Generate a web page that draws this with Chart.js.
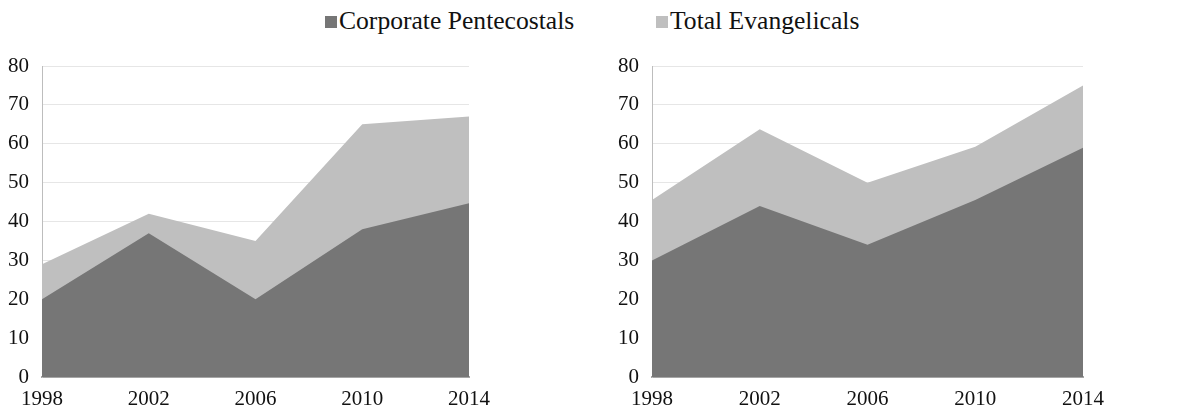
<!DOCTYPE html>
<html>
<head>
<meta charset="utf-8">
<script src="https://cdn.jsdelivr.net/npm/chart.js@4.4.1/dist/chart.umd.min.js"></script>
<style>
  html, body { margin: 0; padding: 0; background: #fff; }
  body { width: 1187px; height: 417px; position: relative; overflow: hidden; font-family: "Liberation Serif", "DejaVu Serif", serif; }
  #legend { position: absolute; top: 4px; left: 0; width: 1187px; height: 34px; }
  .item { position: absolute; top: 0; font-size: 25.6px; color: #111; line-height: 34px; white-space: nowrap; }
  .box { display: inline-block; width: 12px; height: 12px; margin-right: 2px; vertical-align: 1px; }
  #wrapA { position: absolute; left: 0; top: 50px; width: 590px; height: 367px; }
  #wrapB { position: absolute; left: 590px; top: 50px; width: 597px; height: 367px; }
</style>
</head>
<body>
<div id="legend"></div>
<div id="wrapA"><canvas id="chartA"></canvas></div>
<div id="wrapB"><canvas id="chartB"></canvas></div>
<script>
// data
const years = ['1998', '2002', '2006', '2010', '2014'];
const seriesNames = ['Corporate Pentecostals', 'Total Evangelicals'];
const seriesColors = ['#767676', '#bfbfbf'];

const leftPentecostals = [20, 37, 20, 38, 44.7];
const leftEvangelicals = [29, 42, 35, 65, 67];

const rightPentecostals = [30, 44, 34, 45.5, 59];
const rightEvangelicals = [45.5, 63.7, 50, 59.2, 75];

const yTicks = [0, 10, 20, 30, 40, 50, 60, 70, 80];

const serif = "'Liberation Serif', 'DejaVu Serif', serif";

// legend on top, shared by both panels
const legendPos = [325, 656];
const legend = document.getElementById('legend');
seriesNames.forEach((name, i) => {
    const el = document.createElement('div');
    el.className = 'item';
    el.style.left = legendPos[i] + 'px';
    el.innerHTML = '<span class="box" style="background:' + seriesColors[i] + '"></span>' + name;
    legend.appendChild(el);
});

function makeChart(id, pent, evan, axisWidth, padRight) {
    const canvas = document.getElementById(id);
    return new Chart(canvas, {
        type: 'line',
        data: {
            labels: years,
            datasets: [
                { label: seriesNames[0], data: pent, backgroundColor: seriesColors[0], borderWidth: 0, fill: 'origin', pointRadius: 0, tension: 0 },
                { label: seriesNames[1], data: evan, backgroundColor: seriesColors[1], borderWidth: 0, fill: 'origin', pointRadius: 0, tension: 0 }
            ]
        },
        options: {
            responsive: true,
            maintainAspectRatio: false,
            animation: false,
            layout: { padding: { top: 16, right: padRight, left: 0, bottom: 0 } },
            plugins: { legend: { display: false }, tooltip: { enabled: false } },
            scales: {
                x: {
                    offset: false,
                    grid: { display: false, drawTicks: false },
                    border: { color: '#a6a6a6', width: 2 },
                    ticks: { color: '#111', padding: 10, maxRotation: 0, font: { family: serif, size: 21 } },
                    afterFit: s => { s.height = 40; s.paddingLeft = 0; s.paddingRight = 0; }
                },
                y: {
                    min: 0, max: 80,
                    afterBuildTicks: s => { s.ticks = yTicks.map(v => ({ value: v })); },
                    grid: { color: '#e6e6e6', drawTicks: false },
                    border: { color: '#bdbdbd', width: 1 },
                    ticks: { color: '#111', padding: 13, font: { family: serif, size: 21 } },
                    afterFit: s => { s.width = axisWidth; s.paddingTop = 0; s.paddingBottom = 0; }
                }
            }
        }
    });
}

makeChart('chartA', leftPentecostals, leftEvangelicals, 42, 121);
makeChart('chartB', rightPentecostals, rightEvangelicals, 62, 104);
</script>
</body>
</html>
